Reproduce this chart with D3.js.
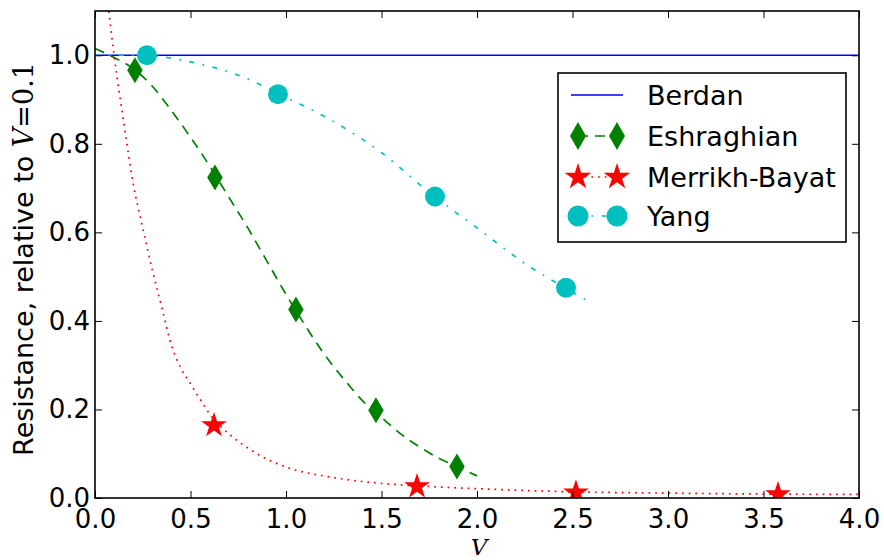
<!DOCTYPE html>
<html>
<head>
<meta charset="utf-8">
<script src="https://cdn.jsdelivr.net/npm/d3@7"></script>
<style>
  body { margin: 0; background: #fff; }
  text { font-family: "DejaVu Sans", sans-serif; }
</style>
</head>
<body>
<div id="chart"></div>
<script>
const width = 884;
const height = 560;
const margin = { top: 11, right: 25, bottom: 62, left: 95 };

// Data
const xTicks = [0, 0.5, 1.0, 1.5, 2.0, 2.5, 3.0, 3.5, 4.0];
const yTicks = [0, 0.2, 0.4, 0.6, 0.8, 1.0];

const berdanV = [0, 4];
const berdanR = [1, 1];

const eshMarkV = [0.209, 0.628, 1.052, 1.471, 1.895];
const eshMarkR = [0.966, 0.724, 0.426, 0.198, 0.071];
const eshCurveV = [0, 0.1, 0.2, 0.3, 0.4, 0.5, 0.6, 0.7, 0.8, 0.9, 1.0, 1.1, 1.2, 1.3, 1.4, 1.5, 1.6, 1.7, 1.8, 1.9, 2.0];
const eshCurveR = [1.015, 0.995, 0.97, 0.93, 0.875, 0.815, 0.75, 0.68, 0.61, 0.535, 0.46, 0.39, 0.325, 0.27, 0.22, 0.182, 0.145, 0.115, 0.09, 0.07, 0.05];

const mbMarkV = [0.623, 1.686, 2.518, 3.576];
const mbMarkR = [0.164, 0.026, 0.012, 0.008];
const mbCurveV = [0.06, 0.073, 0.1, 0.15, 0.2, 0.25, 0.3, 0.35, 0.4, 0.45, 0.5, 0.55, 0.6, 0.7, 0.8, 0.9, 1.0, 1.25, 1.5, 1.75, 2.0, 2.5, 3.0, 3.5, 4.0];
const mbCurveR = [1.16, 1.1, 1.0, 0.85, 0.71, 0.61, 0.515, 0.43, 0.345, 0.293, 0.258, 0.223, 0.19, 0.145, 0.113, 0.088, 0.07, 0.046, 0.033, 0.026, 0.021, 0.014, 0.011, 0.009, 0.008];

const yangMarkV = [0.272, 0.958, 1.78, 2.466];
const yangMarkR = [1.0, 0.912, 0.681, 0.475];
const yangCurveV = [0, 0.25, 0.5, 0.75, 1.0, 1.25, 1.5, 1.75, 2.0, 2.25, 2.5, 2.6];
const yangCurveR = [1.0, 1.0, 0.985, 0.955, 0.905, 0.85, 0.78, 0.69, 0.61, 0.53, 0.465, 0.44];

const legendNames = ["Berdan", "Eshraghian", "Merrikh-Bayat", "Yang"];

const zip = (a, b) => a.map((v, i) => [v, b[i]]);

const svg = d3.select("#chart")
  .append("svg")
  .attr("width", width)
  .attr("height", height);

const x = d3.scaleLinear()
  .domain([0, 4])
  .range([margin.left, width - margin.right]);

const y = d3.scaleLinear()
  .domain([0, 1.1])
  .range([height - margin.bottom, margin.top]);

svg.append("clipPath").attr("id", "clip")
  .append("rect")
  .attr("x", x(0)).attr("y", y(1.1))
  .attr("width", x(4) - x(0)).attr("height", y(0) - y(1.1));

const plot = svg.append("g").attr("clip-path", "url(#clip)");

const line = d3.line().x(d => x(d[0])).y(d => y(d[1]));

function starPath(cx, cy, r) {
  const ri = r * 0.382;
  let p = "";
  for (let i = 0; i < 10; i++) {
    const rr = i % 2 === 0 ? r : ri;
    const a = -Math.PI / 2 + i * Math.PI / 5;
    p += (i === 0 ? "M" : "L") + (cx + rr * Math.cos(a)) + "," + (cy + rr * Math.sin(a));
  }
  return p + "Z";
}
function diamondPath(cx, cy, h, w) {
  return `M${cx},${cy - h / 2}L${cx + w / 2},${cy}L${cx},${cy + h / 2}L${cx - w / 2},${cy}Z`;
}

// Berdan
plot.append("path")
  .attr("d", line(zip(berdanV, berdanR)))
  .attr("fill", "none").attr("stroke", "#0000ff").attr("stroke-width", 1.7);

// Eshraghian
plot.append("path")
  .attr("d", line.curve(d3.curveMonotoneX)(zip(eshCurveV, eshCurveR)))
  .attr("fill", "none").attr("stroke", "#008000").attr("stroke-width", 1.7)
  .attr("stroke-dasharray", "10,7");
plot.selectAll(".esh").data(zip(eshMarkV, eshMarkR)).enter()
  .append("path")
  .attr("d", d => diamondPath(x(d[0]), y(d[1]), 26, 15.5))
  .attr("fill", "#008000");

// Merrikh-Bayat
plot.append("path")
  .attr("d", line.curve(d3.curveMonotoneX)(zip(mbCurveV, mbCurveR)))
  .attr("fill", "none").attr("stroke", "#ff0000").attr("stroke-width", 1.7)
  .attr("stroke-dasharray", "1.7,5");
plot.selectAll(".mb").data(zip(mbMarkV, mbMarkR)).enter()
  .append("path")
  .attr("d", d => starPath(x(d[0]), y(d[1]), 13.5))
  .attr("fill", "#ff0000");

// Yang
plot.append("path")
  .attr("d", line.curve(d3.curveMonotoneX)(zip(yangCurveV, yangCurveR)))
  .attr("fill", "none").attr("stroke", "#00bfbf").attr("stroke-width", 1.7)
  .attr("stroke-dasharray", "5,8.5,1.7,8.5");
plot.selectAll(".yang").data(zip(yangMarkV, yangMarkR)).enter()
  .append("circle")
  .attr("cx", d => x(d[0])).attr("cy", d => y(d[1])).attr("r", 10)
  .attr("fill", "#00bfbf");

// Axes (ticks inside, on all four sides)
const fmt = d3.format(".1f");
const tickLen = 7;
const styleAxis = g => {
  g.select(".domain").remove();
  g.selectAll("line").attr("stroke", "#000").attr("stroke-width", 1);
  g.selectAll("text").attr("font-size", 26).attr("fill", "#000");
};

svg.append("g")
  .attr("transform", `translate(0,${y(0)})`)
  .call(d3.axisBottom(x).tickValues(xTicks).tickFormat(fmt).tickSizeInner(-tickLen).tickSizeOuter(0).tickPadding(12))
  .call(styleAxis);
svg.append("g")
  .attr("transform", `translate(0,${y(1.1)})`)
  .call(d3.axisTop(x).tickValues(xTicks).tickFormat("").tickSizeInner(-tickLen).tickSizeOuter(0))
  .call(styleAxis);
svg.append("g")
  .attr("transform", `translate(${x(0)},0)`)
  .call(d3.axisLeft(y).tickValues(yTicks).tickFormat(fmt).tickSizeInner(-tickLen).tickSizeOuter(0).tickPadding(5))
  .call(styleAxis);
svg.append("g")
  .attr("transform", `translate(${x(4)},0)`)
  .call(d3.axisRight(y).tickValues(yTicks).tickFormat("").tickSizeInner(-tickLen).tickSizeOuter(0))
  .call(styleAxis);

svg.append("rect")
  .attr("x", x(0)).attr("y", y(1.1))
  .attr("width", x(4) - x(0)).attr("height", y(0) - y(1.1))
  .attr("fill", "none").attr("stroke", "#000").attr("stroke-width", 1.6);

// Axis labels
svg.append("text")
  .attr("x", (x(0) + x(4)) / 2 + 2).attr("y", 555)
  .attr("text-anchor", "middle")
  .style("font-family", "'DejaVu Serif', serif")
  .style("font-style", "italic")
  .attr("font-size", 23)
  .text("V");

const yl = svg.append("text")
  .attr("transform", `translate(33,259) rotate(-90)`)
  .attr("text-anchor", "middle")
  .attr("font-size", 27);
yl.append("tspan").text("Resistance, relative to ");
yl.append("tspan").style("font-family", "'DejaVu Serif', serif").style("font-style", "italic").text("V");
yl.append("tspan").style("font-family", "'DejaVu Serif', serif").text("=0.1");

// Legend
const lg = svg.append("g");
lg.append("rect")
  .attr("x", 558).attr("y", 73).attr("width", 288).attr("height", 169)
  .attr("fill", "#fff").attr("stroke", "#000").attr("stroke-width", 1.6);

const rowY = [95, 136, 177, 216];
const lx0 = 568, lx1 = 626, m0 = 578, m1 = 617;

lg.append("line").attr("x1", lx0 + 3).attr("x2", lx1 - 3).attr("y1", rowY[0]).attr("y2", rowY[0])
  .attr("stroke", "#0000ff").attr("stroke-width", 1.7);

lg.append("line").attr("x1", m0).attr("x2", m1).attr("y1", rowY[1]).attr("y2", rowY[1])
  .attr("stroke", "#008000").attr("stroke-width", 1.7).attr("stroke-dasharray", "10,7");
[m0, m1].forEach(mx => lg.append("path").attr("d", diamondPath(mx, rowY[1], 28, 16)).attr("fill", "#008000"));

lg.append("line").attr("x1", m0).attr("x2", m1).attr("y1", rowY[2]).attr("y2", rowY[2])
  .attr("stroke", "#ff0000").attr("stroke-width", 1.7).attr("stroke-dasharray", "1.7,5");
[m0, m1].forEach(mx => lg.append("path").attr("d", starPath(mx, rowY[2], 14)).attr("fill", "#ff0000"));

lg.append("line").attr("x1", m0).attr("x2", m1).attr("y1", rowY[3]).attr("y2", rowY[3])
  .attr("stroke", "#00bfbf").attr("stroke-width", 1.7).attr("stroke-dasharray", "5,8.5,1.7,8.5");
[m0, m1].forEach(mx => lg.append("circle").attr("cx", mx).attr("cy", rowY[3]).attr("r", 10.5).attr("fill", "#00bfbf"));

legendNames.forEach((n, i) => {
  lg.append("text").attr("x", 647).attr("y", rowY[i] + 10)
    .attr("font-size", 27).attr("fill", "#000").text(n);
});
</script>
</body>
</html>
